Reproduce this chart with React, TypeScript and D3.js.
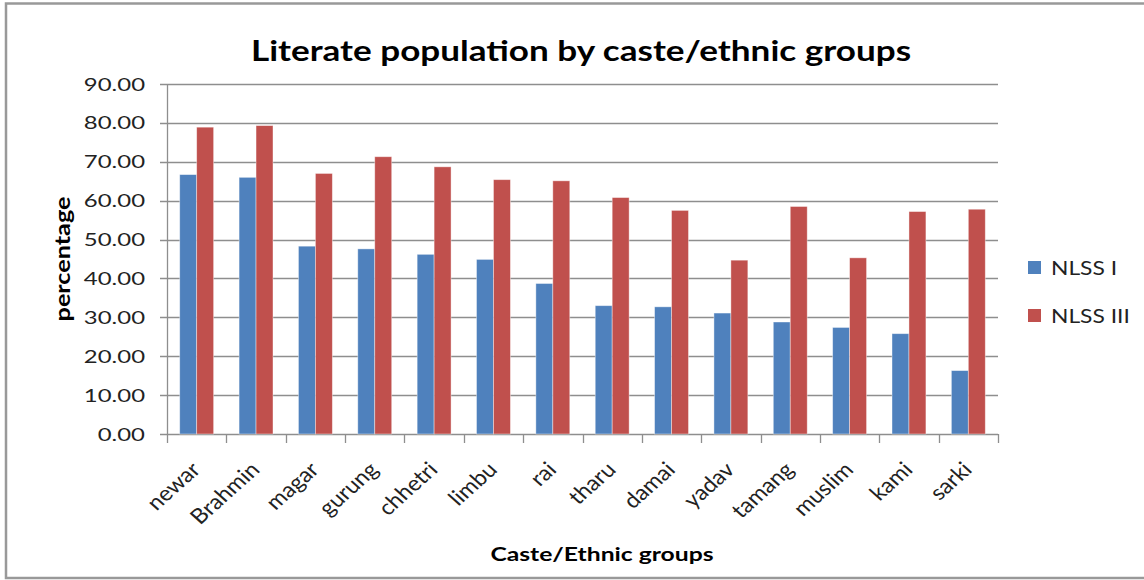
import React from "react";
import * as d3 from "d3";

// Literacy rate (%) by caste/ethnic group, two survey rounds
const groups = ["newar", "Brahmin", "magar", "gurung", "chhetri", "limbu", "rai", "tharu", "damai", "yadav", "tamang", "muslim", "kami", "sarki"];
const nlss1 = [66.7, 66.0, 48.3, 47.6, 46.2, 44.9, 38.7, 33.0, 32.7, 31.1, 28.8, 27.4, 25.8, 16.3];
const nlss3 = [78.9, 79.3, 67.0, 71.3, 68.7, 65.4, 65.1, 60.8, 57.5, 44.7, 58.5, 45.3, 57.2, 57.8];
const seriesNames = ["NLSS I", "NLSS III"];
const seriesColors = ["#4F81BD", "#C0504D"];
const yTicks = [0, 10, 20, 30, 40, 50, 60, 70, 80, 90];

const W = 1144;
const H = 580;
const plot = { left: 167, right: 998, top: 84, bottom: 434 };
const FONT = "Lato, 'Open Sans', 'DejaVu Sans', sans-serif";

export default function App() {
  const x0 = d3.scaleBand<string>().domain(groups).range([plot.left, plot.right]).paddingInner(0).paddingOuter(0);
  const bw = x0.bandwidth() / 3.5; // gap width 150%
  const x1 = d3.scaleBand<string>().domain(seriesNames).range([0, bw * 2]);
  const y = d3.scaleLinear().domain([0, 90]).range([plot.bottom, plot.top]);
  const values = [nlss1, nlss3];
  const gridColor = "#8E8E8E";

  return (
    <svg width={W} height={H} style={{ position: "absolute", left: 0, top: 0, background: "#fff" }}>
      {/* chart frame */}
      <rect x={6} y={3.5} width={W + 10} height={574.5} fill="#fff" stroke="#999" strokeWidth={2.5} />

      <text transform="translate(581,61) scale(1.21,1)" textAnchor="middle" fontFamily={FONT} fontWeight={700} fontSize={29} fill="#000">
        Literate population by caste/ethnic groups
      </text>

      {/* horizontal gridlines with tick marks */}
      {yTicks.map((t) => (
        <g key={t}>
          <line x1={plot.left - 7} x2={plot.right} y1={Math.round(y(t)) + 0.5} y2={Math.round(y(t)) + 0.5} stroke={gridColor} strokeWidth={1.3} />
          <text transform={`translate(145,${y(t) + 6.5}) scale(1.33,1)`} textAnchor="end" fontFamily={FONT} fontSize={18} fill="#222">
            {t.toFixed(2)}
          </text>
        </g>
      ))}

      {/* axes */}
      <line x1={plot.left + 0.5} x2={plot.left + 0.5} y1={plot.top} y2={plot.bottom} stroke={gridColor} strokeWidth={1.3} />
      {groups.concat(["__end"]).map((g, i) => {
        const xx = Math.round(plot.left + i * x0.bandwidth()) + 0.5;
        return <line key={g} x1={xx} x2={xx} y1={plot.bottom} y2={plot.bottom + 9} stroke={gridColor} strokeWidth={1.3} />;
      })}

      {/* bars */}
      {groups.map((g, i) => {
        const cx = (x0(g) as number) + x0.bandwidth() / 2 - bw;
        return (
          <g key={g}>
            {seriesNames.map((s, k) => (
              <rect
                key={s}
                x={cx + (x1(s) as number)}
                y={y(values[k][i])}
                width={x1.bandwidth()}
                height={plot.bottom - y(values[k][i])}
                fill={seriesColors[k]}
                stroke="#ffffff"
                strokeOpacity={0.5}
                strokeWidth={0.8}
              />
            ))}
          </g>
        );
      })}

      {/* category labels */}
      {groups.map((g) => {
        const cx = (x0(g) as number) + x0.bandwidth() / 2 + 5;
        return (
          <text
            key={g}
            transform={`translate(${cx},${plot.bottom + 37}) scale(1.12,1) rotate(-45)`}
            textAnchor="end"
            fontFamily={FONT}
            fontSize={21}
            fill="#222"
          >
            {g}
          </text>
        );
      })}

      <text transform="translate(602,561) scale(1.3,1)" textAnchor="middle" fontFamily={FONT} fontWeight={700} fontSize={19} fill="#000">
        Caste/Ethnic groups
      </text>
      <text transform="translate(70,259) rotate(-90) scale(1.26,1)" textAnchor="middle" fontFamily={FONT} fontWeight={700} fontSize={20} fill="#000">
        percentage
      </text>

      {/* legend */}
      {seriesNames.map((s, k) => (
        <g key={s} transform={`translate(1028,${261 + k * 48})`}>
          <rect x={0} y={0} width={13} height={13} fill={seriesColors[k]} />
          <text transform="translate(23,14) scale(1.2,1)" fontFamily={FONT} fontSize={19} fill="#222">
            {s}
          </text>
        </g>
      ))}
    </svg>
  );
}
